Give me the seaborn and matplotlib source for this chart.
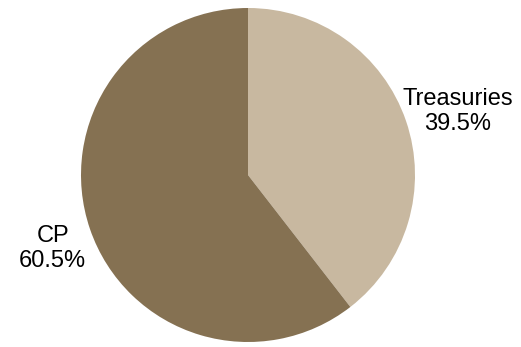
import numpy as np
import pandas as pd
import seaborn as sns
import matplotlib
matplotlib.use('Agg')
import matplotlib.pyplot as plt

sns.set_style('white')
plt.rcParams['font.family'] = ['Liberation Sans', 'DejaVu Sans']

# Data
labels = ['Treasuries', 'CP']
shares = [39.5, 60.5]
colors = ['#c8b8a0', '#857152']

# label placement (radius multiple, angle nudge in degrees)
label_dist = [1.31, 1.25]
label_nudge = [-2.0, 1.7]

fig = plt.figure(figsize=(5.21, 3.47), dpi=100)
ax = fig.add_axes([81 / 521, 5 / 347, 334 / 521, 334 / 347])

texts = ['{}\n{:.1f}%'.format(l, s) for l, s in zip(labels, shares)]
wedges, txts = ax.pie(shares, labels=texts, colors=colors, startangle=90,
                      counterclock=False,
                      wedgeprops=dict(linewidth=0),
                      textprops=dict(fontsize=17, color='black', multialignment='center'))
for w, t, d, n in zip(wedges, txts, label_dist, label_nudge):
    ang = np.deg2rad((w.theta1 + w.theta2) / 2 + n)
    t.set_position((d * np.cos(ang), d * np.sin(ang)))
    t.set_horizontalalignment('center')
    t.set_verticalalignment('center')
ax.set_aspect('equal')
ax.set_xlim(-1.0, 1.0)
ax.set_ylim(-1.0, 1.0)

fig.savefig('out.png', dpi=100)
